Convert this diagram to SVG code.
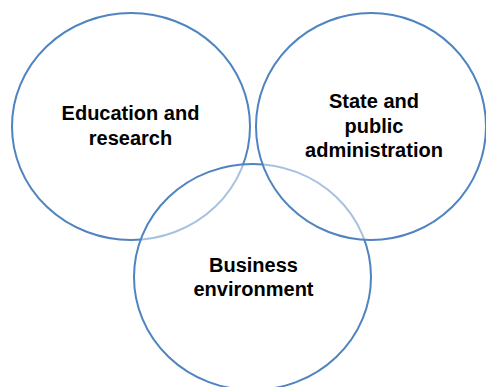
<svg xmlns="http://www.w3.org/2000/svg" width="486" height="387" viewBox="0 0 486 387">
<style>
.c{fill:#ffffff;fill-opacity:0.5;stroke:#4f84c0;stroke-width:2}
.t{font-family:"Liberation Sans",Arial,sans-serif;font-weight:bold;font-size:20px;fill:#000000;text-anchor:middle}
</style>
<rect width="486" height="387" fill="#ffffff"/>
<g id="education">
<ellipse class="c" cx="131" cy="126.5" rx="119" ry="113.5"/>
</g>
<g id="business">
<ellipse class="c" cx="252.5" cy="277" rx="118.5" ry="113"/>
</g>
<g id="state">
<ellipse class="c" cx="371" cy="126.5" rx="115" ry="113.5"/>
</g>
<g id="labels">
<text class="t" x="130.5" y="120">Education and</text>
<text class="t" x="130.5" y="145">research</text>
<text class="t" x="374" y="108">State and</text>
<text class="t" x="374" y="133">public</text>
<text class="t" x="374" y="157">administration</text>
<text class="t" x="253.5" y="272">Business</text>
<text class="t" x="253.5" y="296">environment</text>
</g>
<g id="connectors"/>
</svg>
